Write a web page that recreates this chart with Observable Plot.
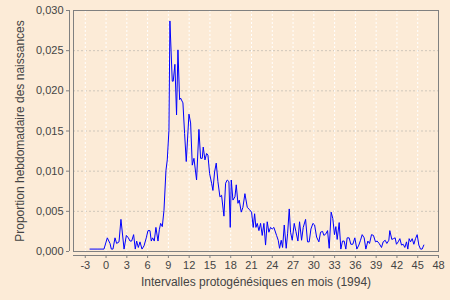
<!DOCTYPE html>
<html><head><meta charset="utf-8">
<script src="https://cdn.jsdelivr.net/npm/d3@7"></script>
<script src="https://cdn.jsdelivr.net/npm/@observablehq/plot@0.6"></script>
<style>
html,body{margin:0;padding:0;background:#fcebd7;}
</style></head>
<body><div id="chart"></div>
<script>
const months = [-2.32,-1.3,-0.30,0.18,0.57,0.76,1.0,1.29,1.53,1.87,2.15,2.6,2.93,3.22,3.46,3.7,3.98,4.22,4.42,4.66,4.9,5.19,5.48,5.81,6.05,6.34,6.53,6.72,6.96,7.2,7.5,7.69,7.88,8.12,8.36,8.65,8.84,9.08,9.22,9.56,9.7,9.94,10.18,10.38,10.62,10.76,11.1,11.34,11.58,11.97,12.21,
12.45,12.69,13.07,13.41,13.65,13.89,14.03,14.28,14.52,14.71,14.95,15.24,15.43,15.67,15.91,16.15,16.44,16.68,17.02,17.26,17.5,17.74,17.93,18.08,18.32,18.61,18.8,19.04,19.23,19.52,19.76,20.05,20.39,20.72,21.01,21.25,21.45,21.64,21.83,22.07,22.31,22.55,22.79,23.03,23.27,23.51,23.75,23.99,24.23,24.62,24.86,25.05,25.29,25.49,25.73,26.01,26.21,26.45,26.64,26.88,27.17,27.41,27.7,27.94,28.23,28.47,28.81,29.09,29.33,29.58,29.87,30.11,30.4,30.73,30.97,31.26,31.45,31.74,31.98,32.22,
32.5,32.74,32.98,33.18,33.37,33.66,33.9,34.14,34.38,34.62,34.81,35.1,35.34,35.63,35.92,36.21,36.5,36.74,36.98,37.27,37.51,37.8,38.04,38.33,38.61,38.9,39.14,39.43,39.77,40.01,40.3,40.54,40.83,40.97,41.26,41.5,41.74,41.93,42.18,42.42,42.66,42.9,43.14,43.38,43.57,43.76,43.96,44.2,44.44,44.68,44.92,45.16,45.4,45.64,45.88];
const proportions = [0.0003,0.0003,0.0003,0.0017,0.0010,0.0003,0.0003,0.0017,0.0010,0.0012,0.0040,0.0003,0.0020,0.0017,0.0013,0.0013,0.0021,0.0003,0.0013,0.0005,0.0012,0.0003,0.0007,0.0017,0.0026,0.0026,0.0013,0.0017,0.0013,0.0030,0.0013,0.0027,0.0035,0.0031,0.0051,0.0101,0.0114,0.0151,0.0287,0.0212,0.0212,0.0233,0.0170,0.0251,0.0189,0.0191,0.0185,0.0147,0.0112,0.0171,0.0160,
0.01075,0.0116,0.0089,0.0152,0.0116,0.0116,0.0130,0.0114,0.0122,0.0120,0.0097,0.0085,0.0076,0.0099,0.0110,0.0087,0.0068,0.0070,0.0044,0.0085,0.0089,0.0087,0.0030,0.0089,0.0064,0.0068,0.0083,0.0060,0.0064,0.0049,0.0055,0.0072,0.0055,0.0052,0.0049,0.0030,0.0047,0.0030,0.0035,0.0026,0.0035,0.0020,0.0035,0.0008,0.0037,0.0024,0.0030,0.0028,0.0030,0.0020,0.0014,0.0004,0.0014,0.0005,0.0033,0.0004,0.0022,0.0053,0.0024,0.0014,0.0035,0.0025,0.0013,0.0037,0.0014,0.0030,0.0040,0.0012,0.0012,0.0028,0.0035,0.0033,0.0018,0.0012,0.0024,0.0025,0.0020,0.0022,0.0026,0.0004,
0.0049,0.0041,0.0021,0.0031,0.0015,0.0036,0.0003,0.0013,0.0013,0.0003,0.0017,0.0017,0.0009,0.0009,0.0017,0.0003,0.0008,0.0014,0.0021,0.0017,0.0003,0.0013,0.0010,0.0021,0.0020,0.0012,0.0013,0.0010,0.0005,0.0012,0.0014,0.0010,0.0014,0.0026,0.0015,0.0016,0.0017,0.0009,0.0012,0.0016,0.0008,0.0009,0.0005,0.0012,0.0003,0.0016,0.0012,0.0016,0.0009,0.0016,0.0021,0.0008,0.0003,0.0003,0.0008];
const xTicks = [-3,0,3,6,9,12,15,18,21,24,27,30,33,36,39,42,45,48];
const yTicks = [0,0.005,0.010,0.015,0.020,0.025,0.030];
const xTitle = "Intervalles protogénésiques en mois (1994)";
const yTitle = "Proportion hebdomadaire des naissances";

const data = months.map((m, i) => ({m, p: proportions[i]}));
const textColor = "#444444";
const axisColor = "#808080";

const chart = Plot.plot({
  width: 450, height: 300,
  marginLeft: 73, marginRight: 12, marginTop: 10, marginBottom: 49,
  style: {background: "#fcebd7", fontFamily: "Liberation Sans, Arial, sans-serif", fontSize: "11px", color: textColor},
  x: {domain: [-4.7, 48], label: null},
  y: {domain: [0, 0.030], label: null},
  marks: [
    Plot.gridY(yTicks, {stroke: "#cfc7bb", strokeOpacity: 1, strokeDasharray: "2,2"}),
    Plot.gridX(xTicks, {stroke: "#ffffff", strokeOpacity: 1, strokeDasharray: "2,2"}),
    Plot.frame({stroke: axisColor}),
    Plot.ruleY([0], {dy: 4, stroke: axisColor}),
    Plot.ruleX([-4.7], {dx: -4, stroke: axisColor}),
    Plot.axisX(xTicks, {tickSize: 3, dy: 4, tickPadding: 3, stroke: axisColor, fill: textColor, fontSize: 11, label: null, tickFormat: d => String(d)}),
    Plot.axisY(yTicks, {tickSize: 3, dx: -4, tickPadding: 3, stroke: axisColor, fill: textColor, fontSize: 11, label: null, tickFormat: d => d3.format(".3f")(d).replace(".", ",")}),
    Plot.line(data, {x: "m", y: "p", stroke: "#0000ff", strokeWidth: 1}),
    Plot.text([xTitle], {frameAnchor: "bottom", dy: 34, fill: textColor, fontSize: 12}),
    Plot.text([yTitle], {frameAnchor: "left", textAnchor: "middle", rotate: -90, dx: -53, fill: textColor, fontSize: 12})
  ]
});
document.getElementById("chart").append(chart);
</script>
</body></html>
